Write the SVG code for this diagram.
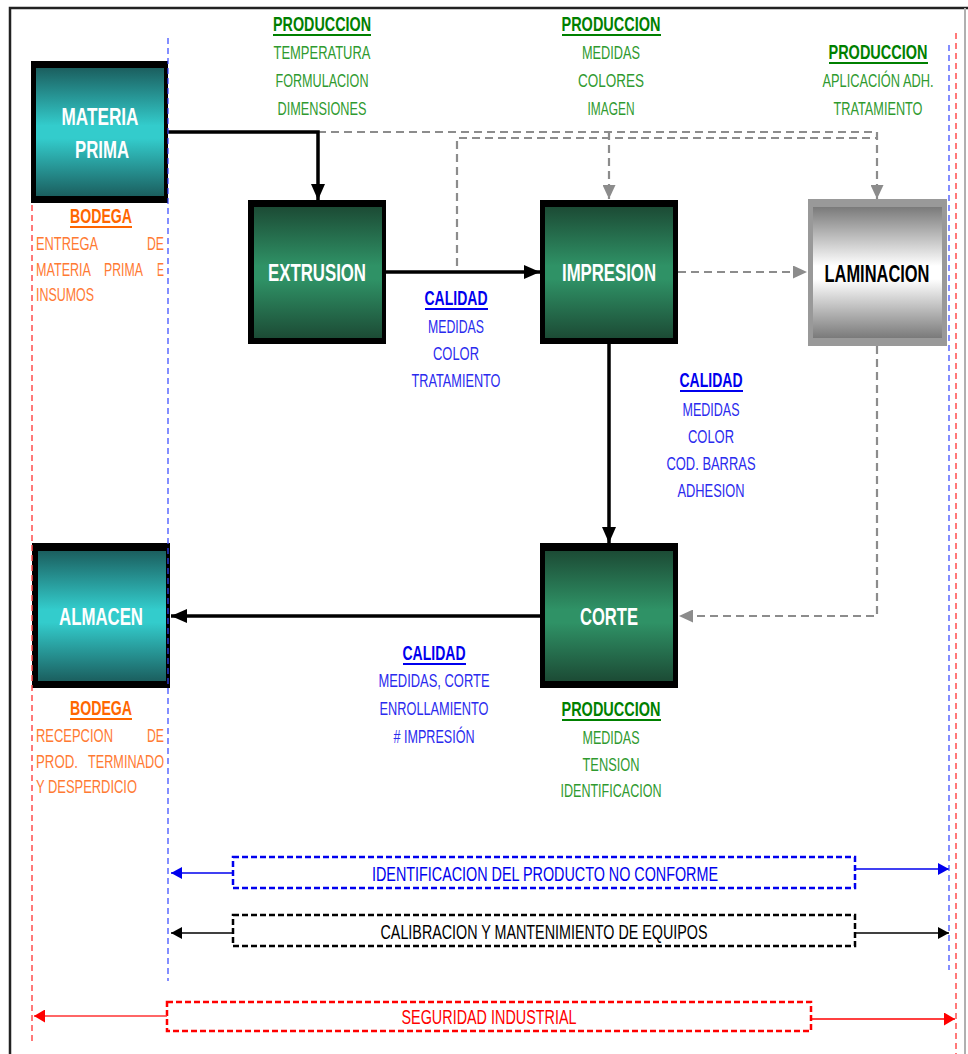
<svg xmlns="http://www.w3.org/2000/svg" width="968" height="1054" viewBox="0 0 968 1054">
<defs>
<style>
text{font-family:"Liberation Sans",Arial,sans-serif;text-anchor:middle}
.nt{font-weight:bold;font-size:24px;fill:#fff}
.hd{font-weight:bold;font-size:21px}
.bd{font-size:18px}
.lt{text-anchor:start}
.rt{text-anchor:end}
.g{fill:#008000}.g2{fill:#2f9a2f}
.b{fill:#0000ee}.b2{fill:#2a2aee}
.o{fill:#ff6600}.o2{fill:#ff7a33}
.ulg{stroke:#008000;stroke-width:2}
.ulb{stroke:#0000ee;stroke-width:2}
.ulo{stroke:#ff6600;stroke-width:2}
.solid{fill:none;stroke:#000;stroke-width:3.5}
.gdash{fill:none;stroke:#8c8c8c;stroke-width:2.2;stroke-dasharray:8 5}
.frame{fill:none;stroke:#222;stroke-width:2.5}
.vb{stroke:#3344ff;stroke-width:1.2;stroke-dasharray:6 4}
.vr{stroke:#ff4d4d;stroke-width:1.5;stroke-dasharray:6 4}
.outer{fill:#000}
</style>
<linearGradient id="teal" x1="0" y1="0" x2="0" y2="1">
<stop offset="0" stop-color="#1b5f5f"/><stop offset="0.45" stop-color="#33cccc"/><stop offset="0.55" stop-color="#33cccc"/><stop offset="1" stop-color="#1b5f5f"/>
</linearGradient>
<linearGradient id="green" x1="0" y1="0" x2="0" y2="1">
<stop offset="0" stop-color="#1c4b35"/><stop offset="0.45" stop-color="#2f9266"/><stop offset="0.55" stop-color="#2f9266"/><stop offset="1" stop-color="#1c4b35"/>
</linearGradient>
<linearGradient id="gray" x1="0" y1="0" x2="0" y2="1">
<stop offset="0" stop-color="#7a7a7a"/><stop offset="0.45" stop-color="#ffffff"/><stop offset="0.55" stop-color="#ffffff"/><stop offset="1" stop-color="#7a7a7a"/>
</linearGradient>
<marker id="ab" viewBox="0 0 16 14" refX="16" refY="7" markerWidth="16" markerHeight="14" markerUnits="userSpaceOnUse" orient="auto"><path d="M0,0 L16,7 L0,14 Z" fill="#000"/></marker>
<marker id="ag" viewBox="0 0 14 13" refX="14" refY="6.5" markerWidth="14" markerHeight="13" markerUnits="userSpaceOnUse" orient="auto"><path d="M0,0 L14,6.5 L0,13 Z" fill="#8c8c8c"/></marker>
<marker id="sb" viewBox="0 0 11 12" refX="11" refY="6" markerWidth="11" markerHeight="12" markerUnits="userSpaceOnUse" orient="auto"><path d="M0,0 L11,6 L0,12 Z" fill="#0000ee"/></marker>
<marker id="sk" viewBox="0 0 11 12" refX="11" refY="6" markerWidth="11" markerHeight="12" markerUnits="userSpaceOnUse" orient="auto"><path d="M0,0 L11,6 L0,12 Z" fill="#000"/></marker>
<marker id="sr" viewBox="0 0 11 13" refX="11" refY="6.5" markerWidth="11" markerHeight="13" markerUnits="userSpaceOnUse" orient="auto"><path d="M0,0 L11,6.5 L0,13 Z" fill="#ff0000"/></marker>
</defs>
<rect width="968" height="1054" fill="#fff"/>
<g id="frame">
<path class="frame" d="M10,1054 V8 H968"/>
<line x1="965" y1="8" x2="965" y2="1054" stroke="#b0b0b0" stroke-width="2"/>
</g>
<g id="connectors">
<path class="gdash" d="M318,132 H877 V199" marker-end="url(#ag)"/>
<path class="gdash" d="M609,132 V199" marker-end="url(#ag)"/>
<path class="gdash" d="M457,266 V138 H877"/>
<path class="gdash" d="M678,272 H807" marker-end="url(#ag)"/>
<path class="gdash" d="M877,346 V616 H679" marker-end="url(#ag)"/>
<path class="solid" d="M168,132 H318 V200" marker-end="url(#ab)"/>
<path class="solid" d="M386,272 H540" marker-end="url(#ab)"/>
<path class="solid" d="M609,344 V543" marker-end="url(#ab)"/>
<path class="solid" d="M540,616 H171" marker-end="url(#ab)"/>
</g>
<g id="node-materia-prima">
<rect class="outer" x="31" y="61" width="137" height="142"/>
<rect x="36" y="68" width="128" height="128" fill="url(#teal)"/>
<text class="nt" x="100" y="125" textLength="77" lengthAdjust="spacingAndGlyphs">MATERIA</text>
<text class="nt" x="102" y="158" textLength="54" lengthAdjust="spacingAndGlyphs">PRIMA</text>
</g>
<g id="node-extrusion">
<rect class="outer" x="248" y="200" width="138" height="144"/>
<rect x="254" y="207" width="128" height="131" fill="url(#green)"/>
<text class="nt" x="317" y="281" textLength="98" lengthAdjust="spacingAndGlyphs">EXTRUSION</text>
</g>
<g id="node-impresion">
<rect class="outer" x="540" y="200" width="138" height="144"/>
<rect x="545" y="207" width="128" height="131" fill="url(#green)"/>
<text class="nt" x="609" y="281" textLength="94" lengthAdjust="spacingAndGlyphs">IMPRESION</text>
</g>
<g id="node-laminacion">
<rect x="808" y="199" width="139" height="147" fill="#999"/>
<rect x="813" y="207" width="129" height="131" fill="url(#gray)"/>
<text class="nt" x="877" y="282" fill="#000" style="fill:#000" textLength="105" lengthAdjust="spacingAndGlyphs">LAMINACION</text>
</g>
<g id="node-almacen">
<rect class="outer" x="32" y="543" width="138" height="145"/>
<rect x="38" y="551" width="128" height="130" fill="url(#teal)"/>
<text class="nt" x="101" y="625" textLength="84" lengthAdjust="spacingAndGlyphs">ALMACEN</text>
</g>
<g id="node-corte">
<rect class="outer" x="540" y="543" width="138" height="145"/>
<rect x="545" y="551" width="128" height="130" fill="url(#green)"/>
<text class="nt" x="609" y="625" textLength="58" lengthAdjust="spacingAndGlyphs">CORTE</text>
</g>
<g id="labels-produccion">
<text class="hd g" x="322" y="31" textLength="98" lengthAdjust="spacingAndGlyphs">PRODUCCION</text>
<line class="ulg" x1="273" y1="35" x2="371" y2="35"/>
<text class="bd g2" x="322" y="59" textLength="97" lengthAdjust="spacingAndGlyphs">TEMPERATURA</text>
<text class="bd g2" x="322" y="87" textLength="93" lengthAdjust="spacingAndGlyphs">FORMULACION</text>
<text class="bd g2" x="322" y="115" textLength="89" lengthAdjust="spacingAndGlyphs">DIMENSIONES</text>
<text class="hd g" x="611" y="31" textLength="99" lengthAdjust="spacingAndGlyphs">PRODUCCION</text>
<line class="ulg" x1="562" y1="35" x2="661" y2="35"/>
<text class="bd g2" x="611" y="59" textLength="58" lengthAdjust="spacingAndGlyphs">MEDIDAS</text>
<text class="bd g2" x="611" y="87" textLength="66" lengthAdjust="spacingAndGlyphs">COLORES</text>
<text class="bd g2" x="611" y="115" textLength="47" lengthAdjust="spacingAndGlyphs">IMAGEN</text>
<text class="hd g" x="878" y="59" textLength="99" lengthAdjust="spacingAndGlyphs">PRODUCCION</text>
<line class="ulg" x1="829" y1="63" x2="928" y2="63"/>
<text class="bd g2" x="878" y="87" textLength="111" lengthAdjust="spacingAndGlyphs">APLICACIÓN ADH.</text>
<text class="bd g2" x="878" y="115" textLength="89" lengthAdjust="spacingAndGlyphs">TRATAMIENTO</text>
<text class="hd g" x="611" y="716" textLength="99" lengthAdjust="spacingAndGlyphs">PRODUCCION</text>
<line class="ulg" x1="562" y1="720" x2="661" y2="720"/>
<text class="bd g2" x="611" y="744" textLength="57" lengthAdjust="spacingAndGlyphs">MEDIDAS</text>
<text class="bd g2" x="611" y="771" textLength="57" lengthAdjust="spacingAndGlyphs">TENSION</text>
<text class="bd g2" x="611" y="797" textLength="101" lengthAdjust="spacingAndGlyphs">IDENTIFICACION</text>
</g>
<g id="labels-calidad">
<text class="hd b" x="456" y="305" textLength="63" lengthAdjust="spacingAndGlyphs">CALIDAD</text>
<line class="ulb" x1="425" y1="309" x2="488" y2="309"/>
<text class="bd b2" x="456" y="333" textLength="56" lengthAdjust="spacingAndGlyphs">MEDIDAS</text>
<text class="bd b2" x="456" y="360" textLength="46" lengthAdjust="spacingAndGlyphs">COLOR</text>
<text class="bd b2" x="456" y="387" textLength="89" lengthAdjust="spacingAndGlyphs">TRATAMIENTO</text>
<text class="hd b" x="711" y="387" textLength="63" lengthAdjust="spacingAndGlyphs">CALIDAD</text>
<line class="ulb" x1="680" y1="391" x2="743" y2="391"/>
<text class="bd b2" x="711" y="416" textLength="57" lengthAdjust="spacingAndGlyphs">MEDIDAS</text>
<text class="bd b2" x="711" y="443" textLength="46" lengthAdjust="spacingAndGlyphs">COLOR</text>
<text class="bd b2" x="711" y="470" textLength="89" lengthAdjust="spacingAndGlyphs">COD. BARRAS</text>
<text class="bd b2" x="711" y="497" textLength="67" lengthAdjust="spacingAndGlyphs">ADHESION</text>
<text class="hd b" x="434" y="660" textLength="63" lengthAdjust="spacingAndGlyphs">CALIDAD</text>
<line class="ulb" x1="403" y1="664" x2="466" y2="664"/>
<text class="bd b2" x="434" y="687" textLength="111" lengthAdjust="spacingAndGlyphs">MEDIDAS, CORTE</text>
<text class="bd b2" x="434" y="715" textLength="109" lengthAdjust="spacingAndGlyphs">ENROLLAMIENTO</text>
<text class="bd b2" x="434" y="743" textLength="81" lengthAdjust="spacingAndGlyphs"># IMPRESIÓN</text>
</g>
<g id="labels-bodega">
<text class="hd o" x="101" y="223" textLength="62" lengthAdjust="spacingAndGlyphs">BODEGA</text>
<line class="ulo" x1="70" y1="227" x2="132" y2="227"/>
<text class="bd o2 lt" x="36" y="250" textLength="62" lengthAdjust="spacingAndGlyphs">ENTREGA</text>
<text class="bd o2 rt" x="164" y="250" textLength="17" lengthAdjust="spacingAndGlyphs">DE</text>
<text class="bd o2 lt" x="36" y="276" textLength="55" lengthAdjust="spacingAndGlyphs">MATERIA</text>
<text class="bd o2 lt" x="104" y="276" textLength="39" lengthAdjust="spacingAndGlyphs">PRIMA</text>
<text class="bd o2 rt" x="164" y="276" textLength="7" lengthAdjust="spacingAndGlyphs">E</text>
<text class="bd o2 lt" x="36" y="301" textLength="58" lengthAdjust="spacingAndGlyphs">INSUMOS</text>
<text class="hd o" x="101" y="715" textLength="62" lengthAdjust="spacingAndGlyphs">BODEGA</text>
<line class="ulo" x1="70" y1="719" x2="132" y2="719"/>
<text class="bd o2 lt" x="36" y="742" textLength="77" lengthAdjust="spacingAndGlyphs">RECEPCION</text>
<text class="bd o2 rt" x="164" y="742" textLength="17" lengthAdjust="spacingAndGlyphs">DE</text>
<text class="bd o2 lt" x="36" y="768" textLength="42" lengthAdjust="spacingAndGlyphs">PROD.</text>
<text class="bd o2 rt" x="164" y="768" textLength="76" lengthAdjust="spacingAndGlyphs">TERMINADO</text>
<text class="bd o2 lt" x="36" y="793" textLength="101" lengthAdjust="spacingAndGlyphs">Y DESPERDICIO</text>
</g>
<g id="bar-no-conforme">
<rect x="233" y="857" width="622" height="31" fill="none" stroke="#0000ee" stroke-width="2.5" stroke-dasharray="6 3"/>
<path d="M233,873 H171" stroke="#0000ee" stroke-width="1.5" marker-end="url(#sb)"/>
<path d="M855,869 H949" stroke="#0000ee" stroke-width="1.5" marker-end="url(#sb)"/>
<text x="545" y="881" font-size="20" fill="#0000ee" textLength="346" lengthAdjust="spacingAndGlyphs">IDENTIFICACION DEL PRODUCTO NO CONFORME</text>
</g>
<g id="bar-calibracion">
<rect x="233" y="915" width="622" height="31" fill="none" stroke="#000" stroke-width="2.5" stroke-dasharray="6 3"/>
<path d="M233,933 H171" stroke="#000" stroke-width="1.5" marker-end="url(#sk)"/>
<path d="M855,933 H949" stroke="#000" stroke-width="1.5" marker-end="url(#sk)"/>
<text x="544" y="939" font-size="20" fill="#000" textLength="327" lengthAdjust="spacingAndGlyphs">CALIBRACION Y MANTENIMIENTO DE EQUIPOS</text>
</g>
<g id="bar-seguridad">
<rect x="167" y="1002" width="644" height="29" fill="none" stroke="#ff0000" stroke-width="2.5" stroke-dasharray="6 3"/>
<path d="M167,1016 H34" stroke="#ff3333" stroke-width="1.5" marker-end="url(#sr)"/>
<path d="M811,1019 H955" stroke="#ff0000" stroke-width="1.5" marker-end="url(#sr)"/>
<text x="489" y="1024" font-size="20" fill="#ff0000" textLength="175" lengthAdjust="spacingAndGlyphs">SEGURIDAD INDUSTRIAL</text>
</g>
<g id="guides">
<line class="vr" x1="32" y1="205" x2="32" y2="1042"/>
<line class="vb" x1="168" y1="38" x2="168" y2="981"/>
<line class="vb" x1="949" y1="45" x2="949" y2="970"/>
<line class="vr" x1="956" y1="33" x2="956" y2="1054"/>
</g>
</svg>
